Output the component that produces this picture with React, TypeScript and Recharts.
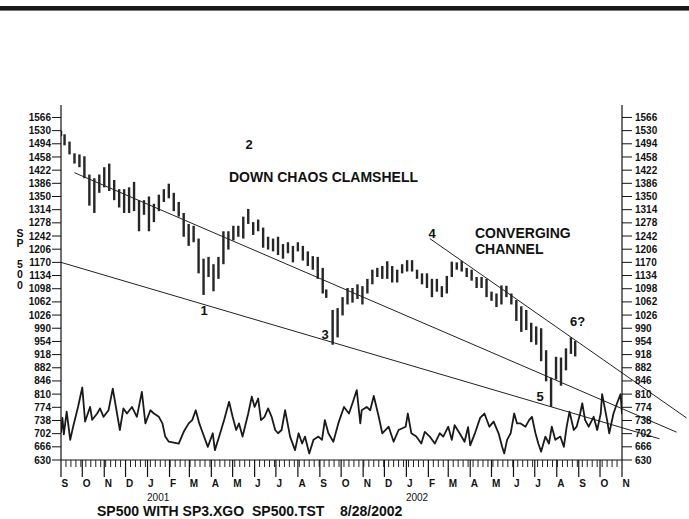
import React from 'react';
import { ComposedChart, Bar, Line, XAxis, YAxis, ReferenceLine } from 'recharts';

const FONT = "'Liberation Sans', Arial, Helvetica, sans-serif";

// Weekly S&P 500 bars (mid-week date, high, low)
const priceDates = [
  '2000-09-01','2000-09-06','2000-09-13','2000-09-20','2000-09-27','2000-10-04','2000-10-11','2000-10-18','2000-10-25',
  '2000-11-01','2000-11-08','2000-11-15','2000-11-22','2000-11-29','2000-12-06','2000-12-13','2000-12-20','2000-12-27',
  '2001-01-03','2001-01-10','2001-01-17','2001-01-24','2001-01-31','2001-02-07','2001-02-14','2001-02-21','2001-02-28',
  '2001-03-07','2001-03-14','2001-03-21','2001-03-28','2001-04-04','2001-04-11','2001-04-18','2001-04-25','2001-05-02',
  '2001-05-09','2001-05-16','2001-05-23','2001-05-30','2001-06-06','2001-06-13','2001-06-20','2001-06-27','2001-07-04',
  '2001-07-11','2001-07-18','2001-07-25','2001-08-01','2001-08-08','2001-08-15','2001-08-22','2001-08-29','2001-09-05',
  '2001-09-10','2001-09-19','2001-09-26','2001-10-03','2001-10-10','2001-10-17','2001-10-24','2001-10-31','2001-11-07',
  '2001-11-14','2001-11-21','2001-11-28','2001-12-05','2001-12-12','2001-12-19','2001-12-26','2002-01-02','2002-01-09',
  '2002-01-16','2002-01-23','2002-01-30','2002-02-06','2002-02-13','2002-02-20','2002-02-27','2002-03-06','2002-03-13',
  '2002-03-20','2002-03-27','2002-04-03','2002-04-10','2002-04-17','2002-04-24','2002-05-01','2002-05-08','2002-05-15',
  '2002-05-22','2002-05-29','2002-06-05','2002-06-12','2002-06-19','2002-06-26','2002-07-03','2002-07-10','2002-07-17',
  '2002-07-24','2002-07-31','2002-08-07','2002-08-14','2002-08-21','2002-08-27',
];
const priceHigh = [
  1530,1520,1500,1468,1465,1460,1410,1400,1410,
  1430,1440,1395,1370,1370,1375,1390,1340,1340,
  1350,1330,1355,1370,1385,1360,1335,1305,1275,
  1270,1235,1180,1185,1165,1185,1255,1255,1270,
  1270,1295,1316,1280,1287,1265,1240,1235,1240,
  1220,1225,1215,1225,1215,1200,1187,1185,1155,
  1096,1040,1045,1075,1100,1100,1110,1105,1125,
  1150,1155,1160,1173,1160,1150,1165,1176,1176,
  1150,1140,1140,1125,1125,1105,1133,1172,1170,
  1174,1155,1150,1130,1130,1125,1090,1085,1107,
  1106,1085,1067,1050,1040,1005,995,990,930,
  855,912,910,935,965,955,
];
const priceLow = [
  1515,1490,1465,1440,1430,1400,1325,1305,1360,
  1375,1365,1340,1320,1305,1305,1310,1255,1300,
  1255,1280,1310,1335,1345,1310,1295,1240,1215,
  1225,1140,1081,1130,1091,1125,1165,1205,1230,
  1240,1235,1275,1245,1255,1210,1205,1200,1190,
  1180,1195,1170,1200,1175,1160,1150,1125,1085,
  1073,945,965,1025,1055,1060,1070,1055,1085,
  1110,1130,1125,1125,1115,1115,1140,1145,1145,
  1125,1110,1100,1075,1090,1075,1085,1130,1150,
  1145,1130,1120,1100,1100,1075,1065,1048,1055,
  1075,1055,1010,980,985,952,945,900,845,
  775,850,833,875,920,913,
];

// SP3.XGO oscillator
const oscDates = [
  '2000-09-01','2000-09-03','2000-09-05','2000-09-09','2000-09-14','2000-09-18','2000-09-25','2000-10-01','2000-10-05',
  '2000-10-12','2000-10-15','2000-10-22','2000-10-26','2000-10-31','2000-11-07','2000-11-13','2000-11-19','2000-11-23',
  '2000-11-28','2000-12-03','2000-12-10','2000-12-17','2000-12-24','2000-12-29','2001-01-05','2001-01-10','2001-01-17',
  '2001-01-22','2001-01-26','2001-01-31','2001-02-14','2001-02-21','2001-02-28','2001-03-05','2001-03-10','2001-03-15',
  '2001-03-20','2001-03-27','2001-04-03','2001-04-06','2001-04-12','2001-04-19','2001-04-26','2001-05-01','2001-05-06',
  '2001-05-10','2001-05-15','2001-05-23','2001-05-28','2001-06-01','2001-06-06','2001-06-10','2001-06-15','2001-06-20',
  '2001-06-25','2001-06-30','2001-07-04','2001-07-09','2001-07-14','2001-07-21','2001-07-28','2001-08-02','2001-08-07',
  '2001-08-11','2001-08-17','2001-08-23','2001-08-30','2001-09-04','2001-09-08','2001-09-13','2001-09-20','2001-09-27',
  '2001-10-05','2001-10-12','2001-10-17','2001-10-23','2001-10-28','2001-10-30','2001-11-06','2001-11-11','2001-11-16',
  '2001-11-23','2001-11-28','2001-12-07','2001-12-14','2001-12-21','2001-12-31','2002-01-03','2002-01-08','2002-01-15',
  '2002-01-22','2002-01-27','2002-02-03','2002-02-10','2002-02-17','2002-02-22','2002-03-01','2002-03-06','2002-03-10',
  '2002-03-17','2002-03-24','2002-03-29','2002-04-01','2002-04-08','2002-04-15','2002-04-21','2002-04-28','2002-05-04',
  '2002-05-11','2002-05-16','2002-05-19','2002-05-23','2002-05-28','2002-06-02','2002-06-06','2002-06-11','2002-06-18',
  '2002-06-23','2002-06-27','2002-07-02','2002-07-06','2002-07-10','2002-07-16','2002-07-21','2002-07-25','2002-07-30',
  '2002-08-06','2002-08-11','2002-08-15','2002-08-19','2002-08-25','2002-08-29','2002-09-03','2002-09-06','2002-09-10',
  '2002-09-15','2002-09-22','2002-09-27','2002-10-02','2002-10-04','2002-10-11','2002-10-14','2002-10-20','2002-10-25',
  '2002-10-30','2002-11-01',
];
const oscValues = [
  705,745,700,762,685,720,775,828,735,
  775,740,757,771,748,766,825,757,712,
  771,757,775,748,816,730,766,757,748,
  730,694,680,675,707,730,739,766,730,
  703,666,703,657,694,739,789,748,712,
  730,694,757,803,775,798,739,748,771,
  748,712,703,712,766,694,657,703,675,
  694,648,685,694,685,739,703,680,730,
  775,757,785,821,730,766,775,766,805,
  748,703,721,680,712,721,757,703,694,
  675,707,694,675,703,694,721,685,725,
  703,680,720,670,705,745,757,721,735,
  703,666,648,685,703,757,730,730,721,
  739,748,703,675,653,694,675,721,685,
  694,666,721,762,712,721,757,785,739,
  721,748,712,757,810,739,703,757,785,
  810,755,
];

// Hand-drawn trendlines (start date/value, end date/value)
const trendStartDates = ['2000-09-20', '2000-09-01', '2002-02-03'];
const trendStartValues = [1415, 1170, 1235];
const trendEndDates = ['2003-01-17', '2002-12-24', '2003-01-31'];
const trendEndValues = [706, 688, 745];

const yTicks = [630,666,702,738,774,810,846,882,918,954,990,1026,1062,1098,1134,1170,1206,1242,1278,1314,1350,1386,1422,1458,1494,1530,1566];

const monthStartDates = [
  '2000-09-01','2000-10-01','2000-11-01','2000-12-01','2001-01-01','2001-02-01','2001-03-01','2001-04-01','2001-05-01',
  '2001-06-01','2001-07-01','2001-08-01','2001-09-01','2001-10-01','2001-11-01','2001-12-01','2002-01-01','2002-02-01',
  '2002-03-01','2002-04-01','2002-05-01','2002-06-01','2002-07-01','2002-08-01','2002-09-01','2002-10-01','2002-11-01',
];
const monthLabels = ['S','O','N','D','J','F','M','A','M','J','J','A','S','O','N','D','J','F','M','A','M','J','J','A','S','O','N'];
const yearLabelDates = ['2001-01-16', '2002-01-16'];
const yearLabels = ['2001', '2002'];

const START = Date.UTC(2000, 8, 1);
const dayNum = (s: string) => {
  const [y, m, d] = s.split('-').map(Number);
  return Math.round((Date.UTC(y, m - 1, d) - START) / 86400000);
};
const END_DAY = dayNum('2002-11-01');

const priceData = priceDates.map((d, i) => ({ day: dayNum(d), range: [priceLow[i], priceHigh[i]] }));
const oscData = oscDates.map((d, i) => ({ day: dayNum(d), osc: oscValues[i] }));

const monthDays = monthStartDates.map(dayNum);
const yearDays = yearLabelDates.map(dayNum);
const weekDays: number[] = [];
for (let d = 0; d <= END_DAY; d += 7) weekDays.push(d);
const tickDays = Array.from(new Set([...weekDays, ...monthDays, ...yearDays])).sort((a, b) => a - b);

const XTick = (props: any) => {
  const { x, y, payload } = props;
  const v = payload.value;
  const yi = yearDays.indexOf(v);
  if (yi >= 0) {
    return (
      <text x={x} y={y + 40.5} textAnchor="middle" fontSize={10} fontFamily={FONT} fill="#111">
        {yearLabels[yi]}
      </text>
    );
  }
  const mi = monthDays.indexOf(v);
  if (mi >= 0) {
    return (
      <g>
        <line x1={x} x2={x} y1={y} y2={y + 17} stroke="#111" strokeWidth={1.2} />
        <text x={x + 0.5} y={y + 26.6} textAnchor="start" fontSize={10} fontWeight="bold" fontFamily={FONT} fill="#111">
          {monthLabels[mi]}
        </text>
      </g>
    );
  }
  return <line x1={x} x2={x} y1={y} y2={y + 7} stroke="#222" strokeWidth={1} />;
};

// price bar: keeps Recharts' y/height, fixed stroke width centred on the date
const PriceBar = (p: any) => {
  if (p.height == null || isNaN(p.y)) return null;
  const cx = p.x + p.width / 2;
  return <rect x={cx - 1.2} y={p.y} width={2.4} height={Math.max(1, p.height)} fill="#262626" />;
};

export default function App() {
  const txt = { fontFamily: FONT, fontWeight: 'bold' as const, fill: '#111' };
  return (
    <div style={{ position: 'absolute', left: 0, top: 0, width: 689, height: 519, background: '#fff' }}>
      <ComposedChart
        width={689}
        height={519}
        data={priceData}
        margin={{ top: 105, right: 0, bottom: 0, left: 0 }}
      >
        <XAxis
          dataKey="day"
          type="number"
          domain={[0, END_DAY]}
          allowDataOverflow
          ticks={tickDays}
          interval={0}
          tick={<XTick />}
          tickLine={false}
          tickSize={0}
          tickMargin={0}
          height={59}
          axisLine={{ stroke: '#111', strokeWidth: 1.2 }}
        />
        <YAxis
          yAxisId="left"
          domain={[630, 1600]}
          allowDataOverflow
          ticks={yTicks}
          interval={0}
          width={61}
          tickSize={9}
          tickMargin={1}
          tick={{ fontSize: 10, fill: '#111', fontFamily: FONT, fontWeight: 'bold' }}
          tickLine={{ stroke: '#111' }}
          axisLine={{ stroke: '#111', strokeWidth: 1.2 }}
        />
        <YAxis
          yAxisId="right"
          orientation="right"
          domain={[630, 1600]}
          allowDataOverflow
          ticks={yTicks}
          interval={0}
          width={67}
          tickSize={10}
          tickMargin={3}
          tick={{ fontSize: 10, fill: '#111', fontFamily: FONT, fontWeight: 'bold', textAnchor: 'start' }}
          tickLine={{ stroke: '#111' }}
          axisLine={{ stroke: '#111', strokeWidth: 1.2 }}
        />
        {trendStartDates.map((s, i) => (
          <ReferenceLine
            key={'t' + i}
            yAxisId="left"
            ifOverflow="visible"
            segment={[
              { x: dayNum(s), y: trendStartValues[i] },
              { x: dayNum(trendEndDates[i]), y: trendEndValues[i] },
            ]}
            stroke="#222"
            strokeWidth={1}
          />
        ))}
        <Bar yAxisId="left" dataKey="range" shape={<PriceBar />} isAnimationActive={false} />
        <Line
          yAxisId="left"
          data={oscData}
          dataKey="osc"
          type="linear"
          stroke="#1a1a1a"
          strokeWidth={1.8}
          strokeLinejoin="round"
          dot={false}
          isAnimationActive={false}
        />
      </ComposedChart>
      <svg
        width={689}
        height={519}
        style={{ position: 'absolute', left: 0, top: 0, pointerEvents: 'none' }}
      >
        <rect x={0} y={6} width={689} height={4} fill="#1a1a1a" />
        <rect x={0} y={10} width={689} height={1} fill="#777" />
        <g fontSize={10.5} textAnchor="middle" {...txt}>
          <text x={20} y={236.5}>S</text>
          <text x={20} y={247}>P</text>
          <text x={20} y={267.5}>5</text>
          <text x={20} y={278}>0</text>
          <text x={20} y={289}>0</text>
        </g>
        <g fontSize={13} textAnchor="middle" {...txt}>
          <text x={249} y={149}>2</text>
          <text x={204} y={315}>1</text>
          <text x={325} y={339}>3</text>
          <text x={432} y={238}>4</text>
          <text x={540} y={400.5}>5</text>
          <text x={577.5} y={326}>6?</text>
        </g>
        <g fontSize={14} textAnchor="start" {...txt}>
          <text x={229} y={182}>DOWN CHAOS CLAMSHELL</text>
          <text x={475} y={238}>CONVERGING</text>
          <text x={475} y={254}>CHANNEL</text>
          <text x={97} y={516}>SP500 WITH SP3.XGO</text>
          <text x={252} y={516}>SP500.TST</text>
          <text x={340} y={516}>8/28/2002</text>
        </g>
      </svg>
    </div>
  );
}
